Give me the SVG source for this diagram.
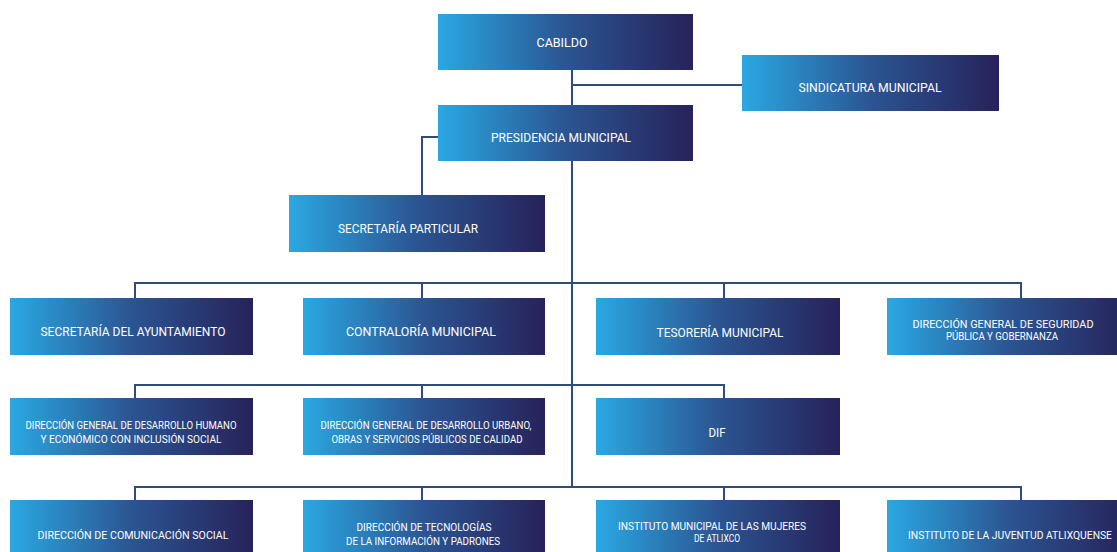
<svg xmlns="http://www.w3.org/2000/svg" width="1117" height="552" viewBox="0 0 1117 552">
<defs>
<linearGradient id="g" x1="0" y1="0" x2="1" y2="0">
<stop offset="0" stop-color="#2aa8e2"/>
<stop offset="0.5" stop-color="#2b5592"/>
<stop offset="1" stop-color="#27225a"/>
</linearGradient>
</defs>
<style>
.box{fill:url(#g);}
.t{font-family:Roboto,"Liberation Sans",sans-serif;font-size:13px;fill:#ffffff;text-anchor:middle;}
.s{font-family:Roboto,"Liberation Sans",sans-serif;font-size:10.5px;fill:#ffffff;text-anchor:middle;}
.c{fill:none;stroke:#2f4d7c;stroke-width:2;}
</style>
<rect width="1117" height="552" fill="#ffffff"/>
<g id="connectors" class="c">
<path d="M572 70V105M572 85H742"/>
<path d="M438 137H422V195"/>
<path d="M572 161V487"/>
<path d="M135 298V283H1021V298M422 283V298M724 283V298"/>
<path d="M135 398V385H724V398M422 385V398"/>
<path d="M135 500V487H1021V500M422 487V500M724 487V500"/>
</g>
<g id="cabildo"><rect class="box" x="438" y="14" width="255" height="56"/><text class="t" x="562" y="47" textLength="51" lengthAdjust="spacingAndGlyphs">CABILDO</text></g>
<g id="sindicatura"><rect class="box" x="742" y="55" width="257" height="56"/><text class="t" x="870" y="92" textLength="143" lengthAdjust="spacingAndGlyphs">SINDICATURA MUNICIPAL</text></g>
<g id="presidencia"><rect class="box" x="438" y="105" width="255" height="56"/><text class="t" x="561" y="142" textLength="140" lengthAdjust="spacingAndGlyphs">PRESIDENCIA MUNICIPAL</text></g>
<g id="secretaria-particular"><rect class="box" x="289" y="195" width="256" height="57"/><text class="t" x="408" y="233" textLength="140" lengthAdjust="spacingAndGlyphs">SECRETARÍA PARTICULAR</text></g>
<g id="secretaria-ayuntamiento"><rect class="box" x="10" y="298" width="243" height="57"/><text class="t" x="133" y="336" textLength="185" lengthAdjust="spacingAndGlyphs">SECRETARÍA DEL AYUNTAMIENTO</text></g>
<g id="contraloria"><rect class="box" x="303" y="298" width="242" height="57"/><text class="t" x="421" y="336" textLength="150" lengthAdjust="spacingAndGlyphs">CONTRALORÍA MUNICIPAL</text></g>
<g id="tesoreria"><rect class="box" x="596" y="298" width="244" height="57"/><text class="t" x="720" y="337" textLength="127" lengthAdjust="spacingAndGlyphs">TESORERÍA MUNICIPAL</text></g>
<g id="seguridad"><rect class="box" x="887" y="298" width="243" height="57"/><text class="s" x="1003" y="328" textLength="181" lengthAdjust="spacingAndGlyphs">DIRECCIÓN GENERAL DE SEGURIDAD</text><text class="s" x="1002" y="340" textLength="112" lengthAdjust="spacingAndGlyphs">PÚBLICA Y GOBERNANZA</text></g>
<g id="desarrollo-humano"><rect class="box" x="10" y="398" width="243" height="57"/><text class="s" x="131" y="429" textLength="211" lengthAdjust="spacingAndGlyphs">DIRECCIÓN GENERAL DE DESARROLLO HUMANO</text><text class="s" x="131" y="443" textLength="181" lengthAdjust="spacingAndGlyphs">Y  ECONÓMICO CON INCLUSIÓN SOCIAL</text></g>
<g id="desarrollo-urbano"><rect class="box" x="303" y="398" width="242" height="57"/><text class="s" x="426" y="429" textLength="211" lengthAdjust="spacingAndGlyphs">DIRECCIÓN GENERAL DE DESARROLLO URBANO,</text><text class="s" x="427" y="443" textLength="191" lengthAdjust="spacingAndGlyphs">OBRAS Y SERVICIOS PÚBLICOS DE CALIDAD</text></g>
<g id="dif"><rect class="box" x="596" y="398" width="244" height="57"/><text class="t" x="717" y="437" textLength="17" lengthAdjust="spacingAndGlyphs">DIF</text></g>
<g id="comunicacion"><rect class="box" x="10" y="500" width="243" height="57"/><text class="s" x="133" y="539" textLength="191" lengthAdjust="spacingAndGlyphs">DIRECCIÓN DE COMUNICACIÓN SOCIAL</text></g>
<g id="tecnologias"><rect class="box" x="303" y="500" width="242" height="57"/><text class="s" x="424" y="531" textLength="135" lengthAdjust="spacingAndGlyphs">DIRECCIÓN DE TECNOLOGÍAS</text><text class="s" x="423" y="545" textLength="154" lengthAdjust="spacingAndGlyphs">DE LA INFORMACIÓN Y PADRONES</text></g>
<g id="mujeres"><rect class="box" x="596" y="500" width="244" height="57"/><text class="s" x="712" y="530" textLength="188" lengthAdjust="spacingAndGlyphs">INSTITUTO MUNICIPAL DE LAS MUJERES</text><text class="s" x="717" y="542" textLength="46" lengthAdjust="spacingAndGlyphs">DE ATLIXCO</text></g>
<g id="juventud"><rect class="box" x="887" y="500" width="243" height="57"/><text class="s" x="1010" y="539" textLength="204" lengthAdjust="spacingAndGlyphs">INSTITUTO DE LA JUVENTUD ATLIXQUENSE</text></g>
</svg>
